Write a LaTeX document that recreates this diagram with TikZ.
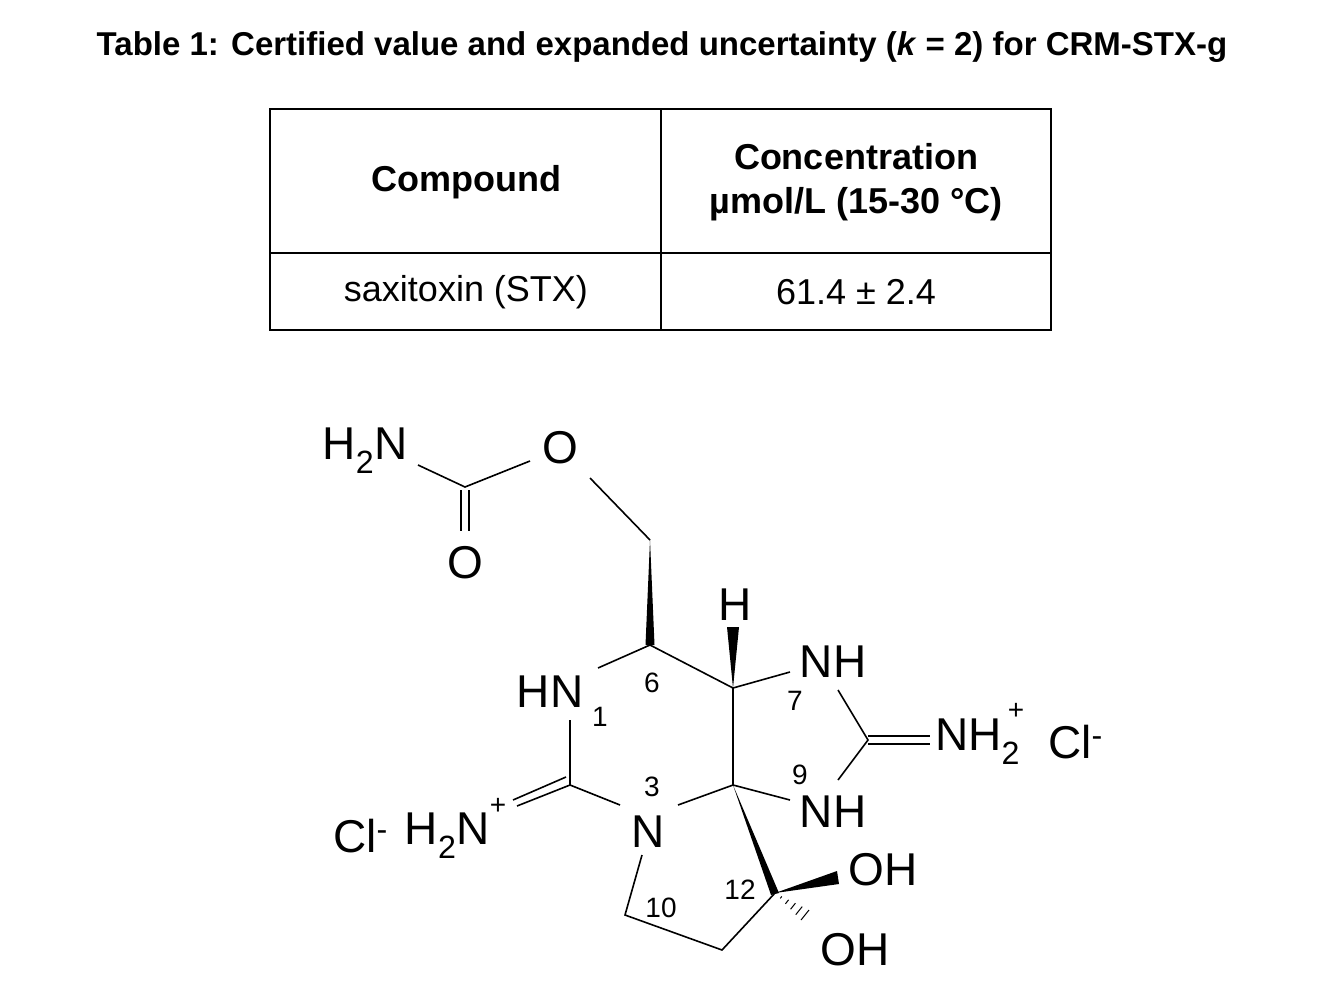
\documentclass[tikz,border=0pt]{standalone}
\usepackage{fontspec}
\setmainfont{Liberation Sans}
\usetikzlibrary{calc}
\begin{document}
\begin{tikzpicture}[x=1pt,y=-1pt,
  lab/.style={font=\fontsize{46}{46}\selectfont,inner sep=0pt},
  num/.style={font=\fontsize{28}{28}\selectfont,inner sep=0pt},
  bd/.style={line width=1.6pt},
  cell/.style={font=\fontsize{36}{40}\selectfont,align=center}]
\useasboundingbox (0,0) rectangle (1340,996);
\node[font=\bfseries\fontsize{33}{33}\selectfont] (title) at (662,47) {Table 1: Certified value and expanded uncertainty (\textit{k} = 2) for CRM-STX-g};
\draw[line width=1.5pt] (270,109) rectangle (1051,330);
\draw[line width=1.5pt] (661,109) -- (661,330) (270,253) -- (1051,253);
\node[cell,font=\bfseries\fontsize{36}{40}\selectfont] (h1) at (466,182) {Compound};
\node[cell,font=\bfseries\fontsize{36}{44}\selectfont] (h2) at (856,182) {Concentration\\µmol/L (15-30 °C)};
\node[cell] (c1) at (466,292) {saxitoxin (STX)};
\node[cell] (c2) at (856,292) {61.4 ± 2.4};
% molecule labels
\node[lab] (nh2a) at (365,451) {H\textsubscript{\raisebox{-0.25ex}{2}}N};
\node[lab] (o1) at (560,448) {O};
\node[lab] (o2) at (465,563) {O};
\node[lab] (h) at (735,605) {H};
\node[lab] (hn1) at (550,692) {HN};
\node[lab] (nh7) at (833,662) {NH};
\node[lab] (nh9) at (833,812) {NH};
\node[lab] (n3) at (648,832) {N};
\node[lab,anchor=west] (nh2b) at (935,742) {NH\textsubscript{\raisebox{-0.25ex}{2}}};
\node[num] at (1016,711) {+};
\node[lab,anchor=west] (clb) at (1048,742) {Cl\textsuperscript{\raisebox{0.2ex}{-}}};
\node[lab,anchor=east] (nh2c) at (490,836) {H\textsubscript{\raisebox{-0.25ex}{2}}N};
\node[num] at (498,806) {+};
\node[lab,anchor=east] (cla) at (388,836) {Cl\textsuperscript{\raisebox{0.2ex}{-}}};
\node[lab] (oh1) at (883,870) {OH};
\node[lab] (oh2) at (855,950) {OH};
\node[num] at (600,717) {1};
\node[num] at (652,683) {6};
\node[num] at (795,701) {7};
\node[num] at (800,775) {9};
\node[num] at (652,787) {3};
\node[num] at (661,908) {10};
\node[num] at (740,890) {12};
% atoms
\coordinate (cc) at (465,487);
\coordinate (ch2) at (650,540);
\coordinate (c6) at (650,645);
\coordinate (c5) at (733,688);
\coordinate (c4) at (733,785);
\coordinate (c8) at (868,740);
\coordinate (c2) at (570,785);
\coordinate (c10) at (625,915);
\coordinate (c11) at (722,950);
\coordinate (c12) at (775,893);
\coordinate (hend) at (805,915);
% bonds
\draw[bd] (418,465) -- (cc) -- (530,461);
\draw[bd] (461,490) -- (461,531) (469,490) -- (469,531);
\draw[bd] (590,478) -- (ch2);
\fill (ch2) -- (645.5,645) -- (654.5,645) -- cycle;
\draw[bd] (c6) -- (598,668);
\draw[bd] (c6) -- (c5);
\fill (c5) -- (727,627) -- (739,627) -- cycle;
\draw[bd] (c5) -- (790,672);
\draw[bd] (c5) -- (c4);
\draw[bd] (838,690) -- (c8) -- (838,780);
\draw[bd] (868,736) -- (930,736) (868,744) -- (930,744);
\draw[bd] (c4) -- (790,800);
\draw[bd] (c4) -- (678,805);
\draw[bd] (620,805) -- (c2) -- (570,720);
\draw[bd] (c2) -- (517,806);
\draw[bd] (566,777) -- (513,800);
\draw[bd] (642,855) -- (c10) -- (c11) -- (c12);
\fill (c4) -- (771,895) -- (779,893) -- cycle;
\fill (c12) -- (837,871) -- (839,884) -- cycle;
\foreach \t in {0.2,0.4,0.6,0.8,1.0}
  \draw[line width=1pt] ($(c12)!\t!(hend)+(-\t*4,\t*5)$) -- ($(c12)!\t!(hend)+(\t*4,-\t*5)$);
\end{tikzpicture}
\end{document}
